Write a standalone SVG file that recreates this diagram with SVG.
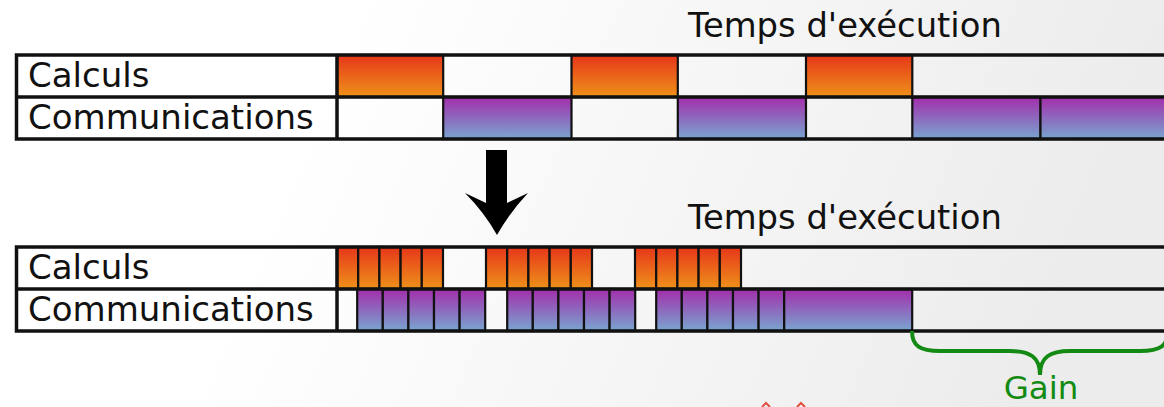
<svg xmlns="http://www.w3.org/2000/svg" width="1164" height="407" viewBox="0 0 1164 407">
  <defs>
    <linearGradient id="bg" x1="0" y1="0" x2="1" y2="0.15">
      <stop offset="0.3" stop-color="#ffffff"/>
      <stop offset="1" stop-color="#ececec"/>
    </linearGradient>
    <linearGradient id="calc" x1="0" y1="0" x2="0" y2="1">
      <stop offset="0" stop-color="#e6361a"/>
      <stop offset="1" stop-color="#ef921a"/>
    </linearGradient>
    <linearGradient id="comm" x1="0" y1="0" x2="0" y2="1">
      <stop offset="0" stop-color="#a32dab"/>
      <stop offset="1" stop-color="#78a6d0"/>
    </linearGradient>
  </defs>
  <style>
    .grid { fill: none; stroke: #111; stroke-width: 3.5; }
    .cpu { fill: url(#calc); stroke: #111; stroke-width: 2.2; }
    .net { fill: url(#comm); stroke: #111; stroke-width: 2.2; }
    .lbl { font-family: "DejaVu Sans", sans-serif; font-size: 34px; fill: #111; }
    .title { font-family: "DejaVu Sans", sans-serif; font-size: 33.8px; fill: #111; }
    .gain { font-family: "DejaVu Sans", sans-serif; font-size: 32.5px; fill: #138a13; text-anchor: middle; }
  </style>

  <rect x="0" y="0" width="1164" height="407" fill="url(#bg)"/>

  <!-- Sequential schedule -->
  <g id="sequential">
    <text class="title" x="688" y="37">Temps d'exécution</text>
    <g id="seq-calc">
      <rect class="cpu" x="337" y="55" width="106.2" height="42"/>
      <rect class="cpu" x="571.5" y="55" width="106.3" height="42"/>
      <rect class="cpu" x="806" y="55" width="106.3" height="42"/>
    </g>
    <g id="seq-comm">
      <rect class="net" x="443.2" y="97" width="128.3" height="42"/>
      <rect class="net" x="677.8" y="97" width="128.2" height="42"/>
      <rect class="net" x="912.3" y="97" width="128.2" height="42"/>
      <rect class="net" x="1040.5" y="97" width="128.3" height="42"/>
    </g>
    <g id="seq-frame">
      <path class="grid" d="M1168,55 H16.5 V139 H1168 M16.5,97 H1168 M337,55 V139"/>
    </g>
    <text class="lbl" x="28" y="87">Calculs</text>
    <text class="lbl" x="28" y="129">Communications</text>
  </g>

  <!-- Pipelined schedule -->
  <g id="pipelined">
    <text class="title" x="688" y="229">Temps d'exécution</text>
    <g id="pipe-calc">
      <rect class="cpu" x="337" y="247" width="21.2" height="42"/>
      <rect class="cpu" x="358.2" y="247" width="21.2" height="42"/>
      <rect class="cpu" x="379.4" y="247" width="21.2" height="42"/>
      <rect class="cpu" x="400.6" y="247" width="21.2" height="42"/>
      <rect class="cpu" x="421.8" y="247" width="21.2" height="42"/>
      <rect class="cpu" x="486" y="247" width="21.2" height="42"/>
      <rect class="cpu" x="507.2" y="247" width="21.2" height="42"/>
      <rect class="cpu" x="528.4" y="247" width="21.2" height="42"/>
      <rect class="cpu" x="549.6" y="247" width="21.2" height="42"/>
      <rect class="cpu" x="570.8" y="247" width="21.2" height="42"/>
      <rect class="cpu" x="635" y="247" width="21.2" height="42"/>
      <rect class="cpu" x="656.2" y="247" width="21.2" height="42"/>
      <rect class="cpu" x="677.4" y="247" width="21.2" height="42"/>
      <rect class="cpu" x="698.6" y="247" width="21.2" height="42"/>
      <rect class="cpu" x="719.8" y="247" width="21.2" height="42"/>
    </g>
    <g id="pipe-comm">
      <rect class="net" x="357.2" y="289" width="25.6" height="42"/>
      <rect class="net" x="382.8" y="289" width="25.6" height="42"/>
      <rect class="net" x="408.4" y="289" width="25.6" height="42"/>
      <rect class="net" x="434" y="289" width="25.6" height="42"/>
      <rect class="net" x="459.6" y="289" width="25.6" height="42"/>
      <rect class="net" x="507.2" y="289" width="25.6" height="42"/>
      <rect class="net" x="532.8" y="289" width="25.6" height="42"/>
      <rect class="net" x="558.4" y="289" width="25.6" height="42"/>
      <rect class="net" x="584" y="289" width="25.6" height="42"/>
      <rect class="net" x="609.6" y="289" width="25.6" height="42"/>
      <rect class="net" x="656.2" y="289" width="25.6" height="42"/>
      <rect class="net" x="681.8" y="289" width="25.6" height="42"/>
      <rect class="net" x="707.4" y="289" width="25.6" height="42"/>
      <rect class="net" x="733" y="289" width="25.6" height="42"/>
      <rect class="net" x="758.6" y="289" width="25.6" height="42"/>
      <rect class="net" x="784.2" y="289" width="128" height="42"/>
    </g>
    <g id="pipe-frame">
      <path class="grid" d="M1168,247 H16.5 V331 H1168 M16.5,289 H1168 M337,247 V331"/>
    </g>
    <text class="lbl" x="28" y="279">Calculs</text>
    <text class="lbl" x="28" y="321">Communications</text>
  </g>

  <g id="connectors">
    <!-- transformation arrow -->
    <path d="M486,150 H507 V203 L528,193 Q510,212 497,235 Q484,212 465,193 L486,203 Z" fill="#000"/>
    <!-- gain brace -->
    <path d="M912,331 C912,346 920,351 940,351 L1010,351 C1030,351 1040,357 1040,375 C1040,357 1050,351 1070,351 L1140,351 C1160,351 1168,346 1168,331" fill="none" stroke="#138a13" stroke-width="4"/>
  </g>
  <text class="gain" x="1041" y="399">Gain</text>

  <!-- red marks at the lower edge -->
  <g fill="none" stroke="#e05040" stroke-width="2">
    <path d="M762,407 L766,403 L770,407"/>
    <path d="M797,407 L801,403 L805,407"/>
  </g>
</svg>
